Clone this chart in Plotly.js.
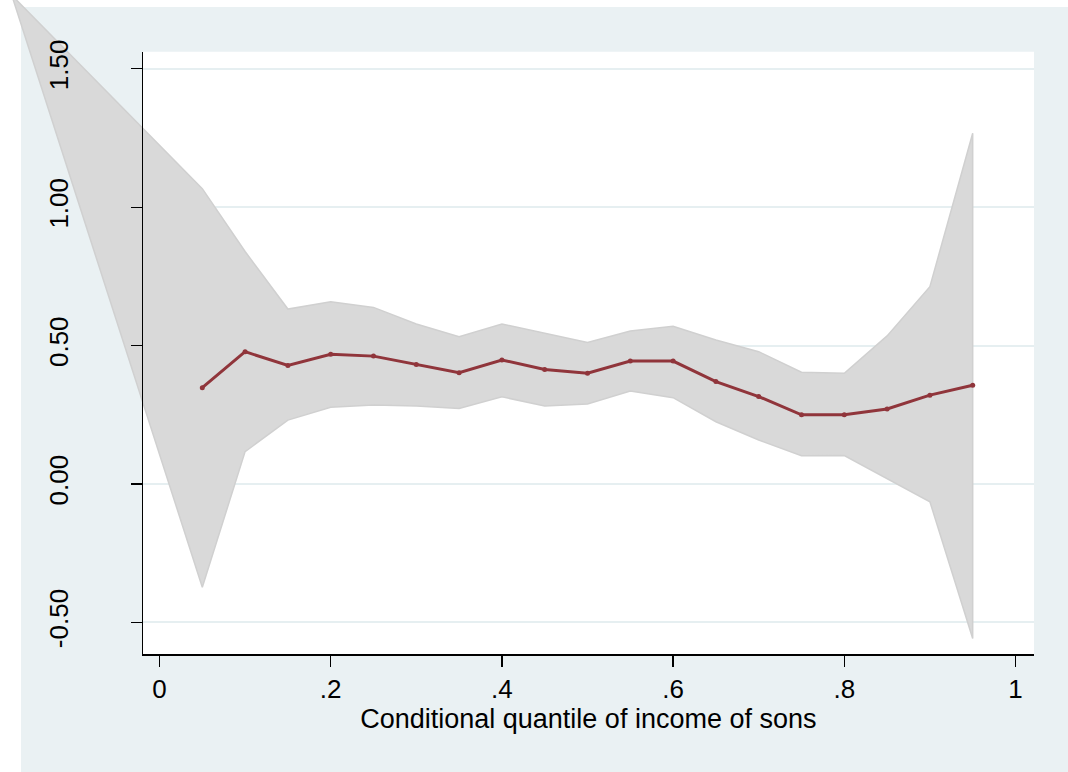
<!DOCTYPE html>
<html>
<head>
<meta charset="utf-8">
<script src="https://cdn.plot.ly/plotly-3.0.1.min.js"></script>
<style>html,body{margin:0;padding:0;background:#ffffff;}</style>
</head>
<body>
<div id="chart" style="width:1068px;height:772px;"></div>
<script>
// ---- data ----
const quantiles = [0.05, 0.10, 0.15, 0.20, 0.25, 0.30, 0.35, 0.40, 0.45, 0.50,
                   0.55, 0.60, 0.65, 0.70, 0.75, 0.80, 0.85, 0.90, 0.95];
const coefficients = [0.348, 0.478, 0.428, 0.469, 0.462, 0.432, 0.402, 0.448, 0.414, 0.400,
                      0.444, 0.444, 0.370, 0.316, 0.250, 0.250, 0.271, 0.321, 0.357];
const upperBound = [1.067, 0.840, 0.632, 0.658, 0.638, 0.578, 0.532, 0.578, 0.544, 0.511,
                    0.553, 0.570, 0.520, 0.478, 0.404, 0.400, 0.535, 0.713, 1.267];
const lowerBound = [-0.373, 0.117, 0.231, 0.277, 0.285, 0.282, 0.273, 0.315, 0.282, 0.289,
                    0.336, 0.312, 0.225, 0.159, 0.102, 0.103, 0.019, -0.064, -0.558];
// extra leftmost vertex of the shaded band (lies outside the plotted range)
const bandStartQuantile = [-0.1726];
const bandStartValue = [1.766];

const xTickValues = [0, 0.2, 0.4, 0.6, 0.8, 1];
const xTickLabels = ['0', '.2', '.4', '.6', '.8', '1'];
const yTickValues = [-0.5, 0, 0.5, 1, 1.5];
const yTickLabels = ['-0.50', '0.00', '0.50', '1.00', '1.50'];
const xTitle = 'Conditional quantile of income of sons';

// ---- layout geometry ----
const W = 1068, H = 772;
const xDomain = [142.7 / W, 1034 / W];
const yDomain = [(H - 654.3) / H, (H - 51.7) / H];
const xRange = [-0.01963, 1.02161];
const yRange = [-0.61524, 1.56178];
const xFullRange = [-0.18633, 1.06133];
const yFullRange = [-1.04046, 1.74855];

const FONT = 'Liberation Sans, Arial, Helvetica, sans-serif';
const bgLight = '#eaf1f3';
const gridColor = '#e6eff1';
const lineColor = '#90353b';

const bandX = bandStartQuantile.concat(quantiles, quantiles.slice().reverse(), bandStartQuantile);
const bandY = bandStartValue.concat(upperBound, lowerBound.slice().reverse(), bandStartValue);

const traces = [
  { // carrier for gridlines (subplot xy)
    x: quantiles, y: coefficients, xaxis: 'x', yaxis: 'y',
    type: 'scatter', mode: 'lines', line: {width: 0, color: 'rgba(0,0,0,0)'},
    opacity: 0, hoverinfo: 'skip', showlegend: false
  },
  { // confidence band
    x: bandX, y: bandY, xaxis: 'x2', yaxis: 'y2',
    type: 'scatter', mode: 'lines', fill: 'toself',
    fillcolor: '#d9d9d9', line: {color: '#d0d0d0', width: 1.5},
    hoverinfo: 'skip', showlegend: false
  },
  { // point estimates
    x: quantiles, y: coefficients, xaxis: 'x2', yaxis: 'y2',
    type: 'scatter', mode: 'lines+markers',
    line: {color: lineColor, width: 3},
    marker: {color: lineColor, size: 5},
    showlegend: false
  },
  { // carrier for visible axes (subplot x3y3)
    x: quantiles, y: coefficients, xaxis: 'x3', yaxis: 'y3',
    type: 'scatter', mode: 'lines', line: {width: 0, color: 'rgba(0,0,0,0)'},
    opacity: 0, hoverinfo: 'skip', showlegend: false
  }
];

const hiddenAxis = {showgrid: false, zeroline: false, showline: false, showticklabels: false, ticks: '', automargin: false};

const layout = {
  width: W, height: H,
  margin: {l: 0, r: 0, t: 0, b: 0, pad: 0},
  paper_bgcolor: '#ffffff',
  plot_bgcolor: 'rgba(0,0,0,0)',
  showlegend: false,
  font: {family: FONT, color: '#000000', size: 26},
  xaxis: Object.assign({}, hiddenAxis, {domain: xDomain, range: xRange, anchor: 'y'}),
  yaxis: Object.assign({}, hiddenAxis, {domain: yDomain, range: yRange, anchor: 'x',
    showgrid: true, gridcolor: gridColor, gridwidth: 2, tickmode: 'array', tickvals: yTickValues}),
  xaxis2: Object.assign({}, hiddenAxis, {domain: [0, 1], range: xFullRange, anchor: 'y2'}),
  yaxis2: Object.assign({}, hiddenAxis, {domain: [0, 1], range: yFullRange, anchor: 'x2'}),
  xaxis3: {
    domain: xDomain, range: xRange, anchor: 'y3', automargin: false,
    showgrid: false, zeroline: false,
    showline: true, linecolor: '#000000', linewidth: 1.2,
    ticks: 'outside', ticklen: 11, tickwidth: 1.2, tickcolor: '#000000',
    tickmode: 'array', tickvals: xTickValues, ticktext: xTickLabels,
    tickfont: {family: FONT, size: 26, color: '#000000'},
    title: {text: xTitle, font: {family: FONT, size: 27, color: '#000000'}, standoff: 0}
  },
  yaxis3: {
    domain: yDomain, range: yRange, anchor: 'x3', automargin: false,
    showgrid: false, zeroline: false,
    showline: true, linecolor: '#000000', linewidth: 1.2,
    ticks: 'outside', ticklen: 11, tickwidth: 1.2, tickcolor: '#000000',
    tickmode: 'array', tickvals: yTickValues, ticktext: yTickLabels,
    tickangle: -90, ticklabelstandoff: 52,
    tickfont: {family: FONT, size: 26, color: '#000000'}
  },
  shapes: [
    {type: 'rect', xref: 'paper', yref: 'paper', x0: 21 / W, x1: 1, y0: 0, y1: (H - 7) / H,
     fillcolor: bgLight, line: {width: 0}, layer: 'below'},
    {type: 'rect', xref: 'paper', yref: 'paper', x0: xDomain[0], x1: xDomain[1], y0: yDomain[0], y1: yDomain[1],
     fillcolor: '#ffffff', line: {width: 0}, layer: 'below'}
  ]
};

Plotly.newPlot('chart', traces, layout, {staticPlot: true, displayModeBar: false});
</script>
</body>
</html>
